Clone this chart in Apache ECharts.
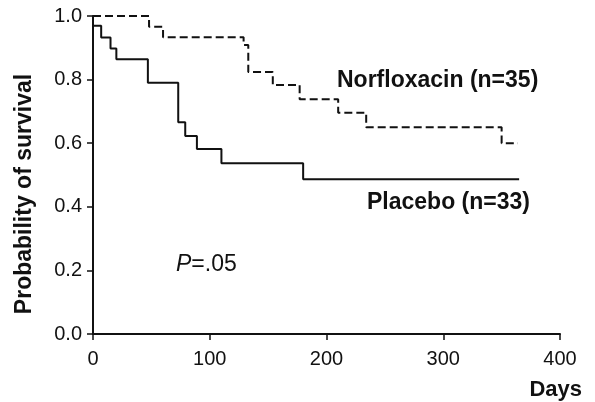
<!DOCTYPE html>
<html lang="en" style="height: 100%">
<head>
  <meta charset="utf-8">
</head>
<body style="height: 100%; margin: 0; background: #fff">
  <div id="container" style="width: 595px; height: 402px"></div>

  <script type="text/javascript" src="https://fastly.jsdelivr.net/npm/echarts@6/dist/echarts.min.js"></script>
  <script type="text/javascript">
    // Kaplan-Meier steps: [day, survival]
    var norfloxacin = [
      [0, 1.0], [48, 0.966], [60, 0.933], [129, 0.909], [133, 0.824],
      [154, 0.783], [177, 0.738], [210, 0.696], [234, 0.650],
      [350, 0.600], [364, 0.600]
    ];
    var placebo = [
      [0, 1.0], [0, 0.969], [7, 0.932], [15, 0.898], [20, 0.864],
      [47, 0.790], [73, 0.666], [79, 0.623], [89, 0.582],
      [110, 0.537], [180, 0.487], [365, 0.487]
    ];
    var xTicks = [0, 100, 200, 300, 400];
    var yTicks = [0, 0.2, 0.4, 0.6, 0.8, 1.0];

    var dom = document.getElementById('container');
    var myChart = echarts.init(dom, null, { renderer: 'canvas' });
    var font = 'Liberation Sans, Arial, sans-serif';

    var option = {
      backgroundColor: '#fff',
      animation: false,
      grid: { left: 93, right: 35, top: 16, bottom: 68 },
      xAxis: {
        type: 'value',
        min: xTicks[0],
        max: xTicks[xTicks.length - 1],
        interval: 100,
        axisLine: { lineStyle: { color: '#111', width: 2 } },
        axisTick: { show: true, length: 6, lineStyle: { color: '#111', width: 1.5 } },
        axisLabel: { color: '#111', fontFamily: font, fontSize: 20, margin: 15 },
        splitLine: { show: false }
      },
      yAxis: {
        type: 'value',
        min: yTicks[0],
        max: yTicks[yTicks.length - 1],
        interval: 0.2,
        axisLine: { show: true, lineStyle: { color: '#111', width: 2 } },
        axisTick: { show: true, length: 6, lineStyle: { color: '#111', width: 1.5 } },
        axisLabel: {
          color: '#111', fontFamily: font, fontSize: 20, margin: 11,
          formatter: function (v) { return v.toFixed(1); }
        },
        splitLine: { show: false }
      },
      series: [
        {
          name: 'Norfloxacin (n=35)',
          type: 'line',
          step: 'end',
          showSymbol: false,
          data: norfloxacin,
          lineStyle: { color: '#111', width: 2, type: [8, 4] }
        },
        {
          name: 'Placebo (n=33)',
          type: 'line',
          step: 'end',
          showSymbol: false,
          data: placebo,
          lineStyle: { color: '#111', width: 2 }
        }
      ],
      graphic: [
        {
          type: 'text', x: 25, y: 194, rotation: Math.PI / 2,
          style: {
            text: 'Probability of survival', fill: '#111',
            font: 'bold 23px ' + font, align: 'center', verticalAlign: 'middle'
          }
        },
        {
          type: 'text', left: 337, top: 69,
          style: { text: 'Norfloxacin (n=35)', fill: '#111', font: 'bold 23px ' + font }
        },
        {
          type: 'text', left: 367, top: 191,
          style: { text: 'Placebo (n=33)', fill: '#111', font: 'bold 23px ' + font }
        },
        {
          type: 'text', left: 176, top: 253,
          style: {
            text: '{i|P}=.05',
            fill: '#111', font: '23px ' + font,
            rich: { i: { fontStyle: 'italic', fontSize: 23, fontFamily: font, fill: '#111' } }
          }
        },
        {
          type: 'text', right: 13, top: 379,
          style: { text: 'Days', fill: '#111', font: 'bold 22px ' + font }
        }
      ]
    };

    myChart.setOption(option);
    window.addEventListener('resize', myChart.resize);
  </script>
</body>
</html>
